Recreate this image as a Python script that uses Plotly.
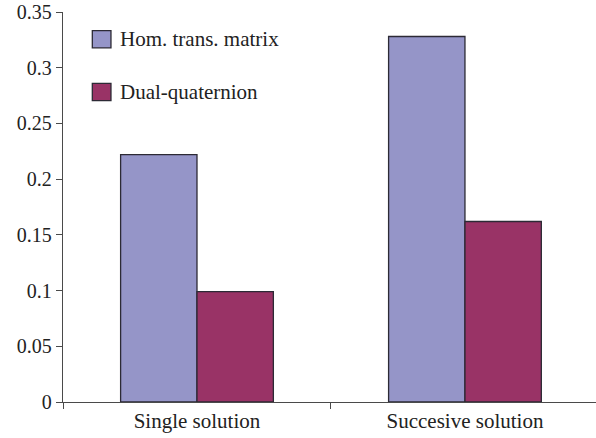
import plotly.graph_objects as go

# Data
categories = ["Single solution", "Succesive solution"]
series_names = ["Hom. trans. matrix", "Dual-quaternion"]
hom_values = [0.222, 0.328]
dq_values = [0.099, 0.162]
series_colors = ["#9595C8", "#993366"]
y_ticks = [0, 0.05, 0.1, 0.15, 0.2, 0.25, 0.3, 0.35]
y_tick_labels = ["0", "0.05", "0.1", "0.15", "0.2", "0.25", "0.3", "0.35"]

FONT = "'Times New Roman', 'Liberation Serif', Times, serif"
AXIS_COLOR = "#4a4a4a"
TEXT_COLOR = "#222222"

fig = go.Figure()
for name, vals, col in zip(series_names, [hom_values, dq_values], series_colors):
    fig.add_trace(go.Bar(
        x=categories, y=vals, name=name,
        marker=dict(color=col, line=dict(color="#2c2a35", width=1.3)),
        showlegend=False,
    ))

# Legend drawn as boxes + labels in the upper left of the plot
legend_rows_y = [0.93, 0.795]
for name, col, yy in zip(series_names, series_colors, legend_rows_y):
    fig.add_shape(type="rect", xref="paper", yref="paper",
                  x0=0.055, x1=0.09, y0=yy - 0.022, y1=yy + 0.022,
                  fillcolor=col, line=dict(color="#2c2a35", width=1.3))
    fig.add_annotation(xref="paper", yref="paper", x=0.103, y=yy,
                       text=name, showarrow=False, xanchor="left", yanchor="middle",
                       font=dict(family=FONT, size=21, color=TEXT_COLOR))

fig.update_layout(
    width=596, height=438,
    margin=dict(l=63, r=0, t=12, b=36),
    paper_bgcolor="white", plot_bgcolor="white",
    barmode="group", bargap=0.43, bargroupgap=0,
    font=dict(family=FONT, size=20, color=TEXT_COLOR),
)
fig.update_xaxes(
    range=[-0.5, 1.489], showline=True, linecolor=AXIS_COLOR, linewidth=1.3,
    ticks="outside", tickson="boundaries", ticklen=6, tickcolor=AXIS_COLOR, tickwidth=1.3,
    showgrid=False, zeroline=False, tickfont=dict(family=FONT, size=21, color=TEXT_COLOR),
)
fig.update_yaxes(
    range=[0, 0.35], tickvals=y_ticks, ticktext=y_tick_labels,
    showline=True, linecolor=AXIS_COLOR, linewidth=1.3,
    ticks="outside", ticklen=6, tickcolor=AXIS_COLOR, tickwidth=1.3,
    showgrid=False, zeroline=False, tickfont=dict(family=FONT, size=20, color=TEXT_COLOR),
)

fig.write_html("out.html")
